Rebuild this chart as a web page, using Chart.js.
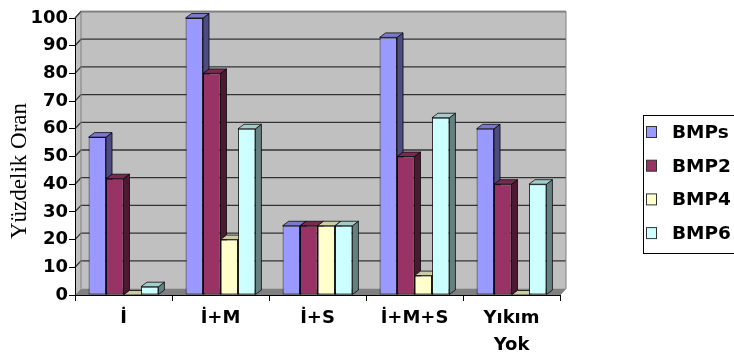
<!DOCTYPE html>
<html>
<head>
<meta charset="utf-8">
<script src="https://cdn.jsdelivr.net/npm/chart.js@4/dist/chart.umd.min.js"></script>
<style>
  html, body { margin: 0; padding: 0; background: #fff; overflow: hidden; }
  #wrap { position: relative; width: 734px; height: 361px; }
</style>
</head>
<body>
<div id="wrap"><canvas id="c"></canvas></div>
<script>
// Categories and series values (percent)
const categories = ['İ', 'İ+M', 'İ+S', 'İ+M+S', ['Yıkım', 'Yok']];
const seriesNames = ['BMPs', 'BMP2', 'BMP4', 'BMP6'];
const bmps = [57, 100, 25, 93, 60];
const bmp2 = [42, 80, 25, 50, 40];
const bmp4 = [0, 20, 25, 7, 0];
const bmp6 = [3, 60, 25, 64, 40];
const yMin = 0, yMax = 100, yStep = 10;
const axisTitle = 'Yüzdelik Oran';

// Face colours: front, side (shadow), top
const frontColors = ['#9999FF', '#993366', '#FFFFCC', '#CCFFFF'];
const sideColors  = ['#4C4C80', '#4C1933', '#808066', '#668080'];
const topColors   = ['#7A7ACC', '#7A2952', '#CCCCA3', '#A3CCCC'];

// Depth offsets of the 3-D look
const WALL = { dx: 6, dy: -6.5 };
const DEPTH = { dx: 6, dy: -4.5 };

const seriesValues = [bmps, bmp2, bmp4, bmp6];
const boldFamily = '"DejaVu Sans", "Liberation Sans", Arial, sans-serif';

function poly(ctx, pts) {
  ctx.beginPath();
  ctx.moveTo(pts[0][0], pts[0][1]);
  for (let i = 1; i < pts.length; i++) ctx.lineTo(pts[i][0], pts[i][1]);
  ctx.closePath();
}

// Back wall, side wall, floor and gridlines
const wallsPlugin = {
  id: 'walls',
  beforeDraw(chart) {
    const { ctx, chartArea: a, scales: { y } } = chart;
    const { dx, dy } = WALL;
    ctx.save();
    ctx.fillStyle = '#C0C0C0';
    poly(ctx, [[a.left, a.bottom], [a.left, a.top], [a.left + dx, a.top + dy], [a.left + dx, a.bottom + dy]]);
    ctx.fill();
    ctx.fillRect(a.left + dx, a.top + dy, a.right - a.left, a.bottom - a.top);
    ctx.fillStyle = '#808080';
    poly(ctx, [[a.left, a.bottom], [a.right, a.bottom], [a.right + dx, a.bottom + dy], [a.left + dx, a.bottom + dy]]);
    ctx.fill();

    // gridlines on the side and back walls
    ctx.strokeStyle = '#333';
    ctx.lineWidth = 1.3;
    y.ticks.forEach(t => {
      if (t.value === yMin) return;
      const py = y.getPixelForValue(t.value);
      ctx.beginPath();
      ctx.moveTo(a.left, py);
      ctx.lineTo(a.left + dx, py + dy);
      ctx.lineTo(a.right + dx, py + dy);
      ctx.stroke();
    });

    // wall outlines
    ctx.strokeStyle = '#808080';
    ctx.lineWidth = 1;
    ctx.beginPath();
    ctx.moveTo(a.left + dx, a.bottom + dy);
    ctx.lineTo(a.left + dx, a.top + dy);
    ctx.lineTo(a.right + dx, a.top + dy);
    ctx.lineTo(a.right + dx, a.bottom + dy);
    ctx.lineTo(a.right, a.bottom);
    ctx.stroke();
    ctx.restore();
  }
};

// Side and top faces of every bar, from the bar elements themselves
const depthPlugin = {
  id: 'barDepth',
  beforeDatasetsDraw(chart) {
    const { ctx } = chart;
    const { dx, dy } = DEPTH;
    ctx.save();
    ctx.lineWidth = 1;
    ctx.strokeStyle = 'rgba(0,0,0,0.75)';
    categories.forEach((_, i) => {
      chart.data.datasets.forEach((ds, d) => {
        const el = chart.getDatasetMeta(d).data[i];
        const p = el.getProps(['x', 'y', 'base', 'width'], true);
        const l = p.x - p.width / 2, r = p.x + p.width / 2;
        const top = Math.min(p.y, p.base), base = Math.max(p.y, p.base);
        if (base > top) {
          ctx.fillStyle = sideColors[d];
          poly(ctx, [[r, top], [r + dx, top + dy], [r + dx, base + dy], [r, base]]);
          ctx.fill(); ctx.stroke();
        }
        ctx.fillStyle = topColors[d];
        poly(ctx, [[l, top], [r, top], [r + dx, top + dy], [l + dx, top + dy]]);
        ctx.fill(); ctx.stroke();
      });
    });
    ctx.restore();
  }
};

// Framed legend and rotated axis title
const legendPlugin = {
  id: 'framedLegend',
  afterDraw(chart) {
    const { ctx } = chart;
    ctx.save();
    ctx.fillStyle = '#fff';
    ctx.fillRect(643.5, 115.5, 120, 138);
    ctx.strokeStyle = '#000';
    ctx.lineWidth = 1;
    ctx.strokeRect(643.5, 115.5, 120, 138);
    ctx.font = 'bold 18.5px ' + boldFamily;
    ctx.textBaseline = 'middle';
    ctx.textAlign = 'left';
    chart.data.datasets.forEach((ds, d) => {
      const cy = 132 + d * 33.7;
      ctx.fillStyle = ds.backgroundColor;
      ctx.fillRect(646.5, cy - 5.5, 10, 11);
      ctx.strokeStyle = '#333';
      ctx.strokeRect(646.5, cy - 5.5, 10, 11);
      ctx.fillStyle = '#000';
      ctx.fillText(ds.label, 672, cy + 1);
    });

    ctx.translate(20, 171);
    ctx.rotate(-Math.PI / 2);
    ctx.font = '23px "Liberation Serif", "Times New Roman", serif';
    ctx.textAlign = 'center';
    ctx.textBaseline = 'middle';
    ctx.fillStyle = '#000';
    ctx.fillText(axisTitle, 0, 0);
    ctx.restore();
  }
};

new Chart(document.getElementById('c'), {
  type: 'bar',
  data: {
    labels: categories,
    datasets: seriesNames.map((name, d) => ({
      label: name,
      data: seriesValues[d],
      backgroundColor: frontColors[d],
      borderColor: 'rgba(0,0,0,0.8)',
      borderWidth: 1,
      borderSkipped: false,
      categoryPercentage: 0.72,
      barPercentage: 1,
      clip: false
    }))
  },
  options: {
    responsive: true,
    maintainAspectRatio: false,
    animation: false,
    layout: { padding: { top: 18, right: 174, bottom: 0, left: 0 } },
    plugins: { legend: { display: false }, tooltip: { enabled: false } },
    scales: {
      x: {
        grid: { display: true, drawOnChartArea: false, drawTicks: true, tickLength: 6, color: '#000', offset: true },
        border: { display: true, color: '#000' },
        ticks: {
          font: { family: boldFamily, weight: 'bold', size: 18, lineHeight: 1.5 },
          color: '#000', padding: 4, maxRotation: 0, autoSkip: false
        },
        afterFit(s) { s.height = 66; }
      },
      y: {
        min: yMin, max: yMax,
        ticks: { stepSize: yStep, font: { family: boldFamily, weight: 'bold', size: 18 }, color: '#000', padding: 1 },
        grid: { drawOnChartArea: false, tickLength: 6, color: '#000' },
        border: { display: true, color: '#000' },
        afterFit(s) { s.width = 75; }
      }
    }
  },
  plugins: [wallsPlugin, depthPlugin, legendPlugin]
});
</script>
</body>
</html>
